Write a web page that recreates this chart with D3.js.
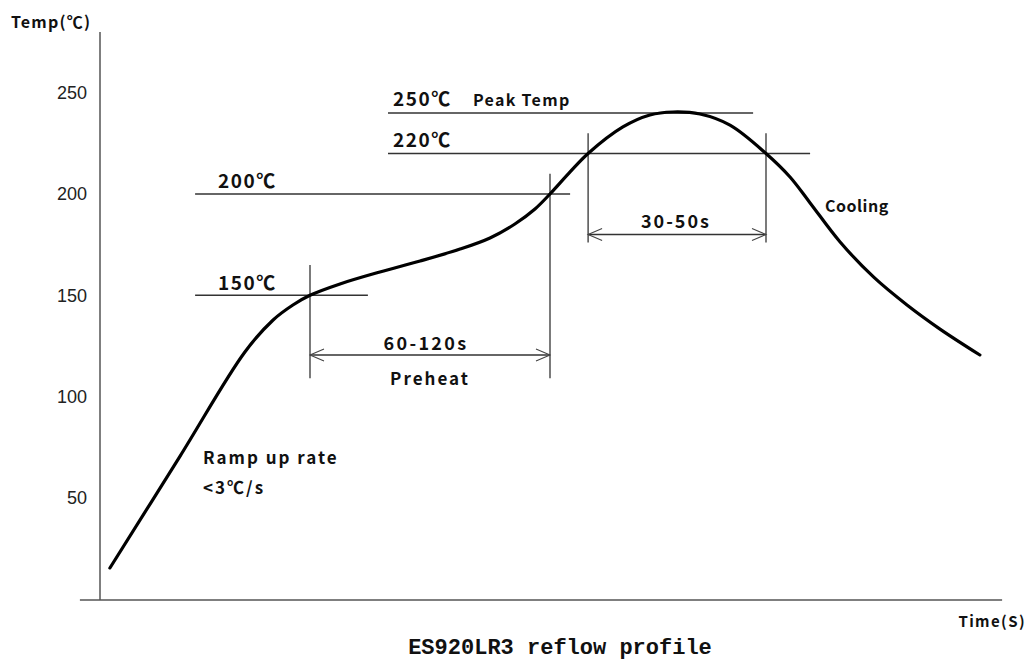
<!DOCTYPE html>
<html>
<head>
<meta charset="utf-8">
<script src="https://cdn.jsdelivr.net/npm/d3@7"></script>
<style>
  body { margin: 0; background: #fff; }
  .lbl { font-family: "Noto Sans CJK JP", "Noto Sans", sans-serif; font-weight: 700; fill: #111; }
  .tick text { font-family: "Liberation Sans", Arial, sans-serif; font-size: 18px; fill: #222; }
</style>
</head>
<body>
<div id="wrapper"></div>
<script>
// profile curve (time in s, temperature in degC)
const curveTime = [3.3, 26.7, 48.3, 57.7, 64.3, 70, 80, 93.3, 106.7, 120, 130, 138.3, 145, 150, 156.7, 162.7, 174.3, 183.3, 191, 200, 210, 222, 230, 236.7, 246.7, 258, 269, 280, 293.3];
const curveTemp = [15.3, 70.6, 122, 137.8, 145.2, 150, 155.6, 161.5, 166.9, 172.8, 178.3, 185.2, 192.6, 200, 210.9, 220, 233.1, 239, 240.5, 239.5, 234, 220, 208.4, 195.6, 176.3, 158.8, 145.2, 133.3, 120.5];

const yTicks = [50, 100, 150, 200, 250];

// annotation marks
const preheatTimes = [70, 150];   // 150C and 200C crossings
const reflowTimes = [162.7, 222]; // 220C crossings
const peakTemp = 240;             // where the peak line sits on the axis

function draw() {
  const width = 1033, height = 662;

  const svg = d3.select("#wrapper").append("svg")
      .attr("width", width)
      .attr("height", height);

  const x = d3.scaleLinear().domain([0, 300]).range([100, 1000]);
  const y = d3.scaleLinear().domain([0, 280]).range([599, 32]);

  // axes
  svg.append("line")
      .attr("x1", x(0)).attr("x2", x(0))
      .attr("y1", y(280)).attr("y2", y(0) + 1)
      .attr("stroke", "#555").attr("stroke-width", 1.5);
  svg.append("line")
      .attr("x1", x(-6.7)).attr("x2", x(300.7))
      .attr("y1", y(0) + 1).attr("y2", y(0) + 1)
      .attr("stroke", "#555").attr("stroke-width", 1.5);

  const yAxis = svg.append("g")
      .attr("transform", `translate(${x(0)},0)`)
      .call(d3.axisLeft(y).tickValues(yTicks).tickSize(0).tickPadding(13));
  yAxis.select(".domain").remove();

  svg.append("text").attr("class", "lbl")
      .attr("x", 11).attr("y", 28)
      .style("font-size", "16px")
      .style("letter-spacing", "1.2px")
      .text("Temp(℃)");
  svg.append("text").attr("class", "lbl")
      .attr("x", 1026).attr("y", 627)
      .attr("text-anchor", "end")
      .style("font-size", "15px")
      .style("letter-spacing", "1.4px")
      .text("Time(S)");

  // guide lines
  const guide = (t1, t2, v) => svg.append("line")
      .attr("x1", x(t1)).attr("x2", x(t2))
      .attr("y1", y(v)).attr("y2", y(v))
      .attr("stroke", "#333").attr("stroke-width", 1.3);
  const vguide = (t, v1, v2) => svg.append("line")
      .attr("x1", x(t)).attr("x2", x(t))
      .attr("y1", y(v1)).attr("y2", y(v2))
      .attr("stroke", "#333").attr("stroke-width", 1.3);

  guide(31.7, 89.3, 150);
  guide(31.7, 156.7, 200);
  guide(96, 236.7, 220);
  guide(96, 217.7, peakTemp);

  vguide(preheatTimes[0], 165, 109);
  vguide(preheatTimes[1], 210, 109);
  vguide(reflowTimes[0], 230, 176);
  vguide(reflowTimes[1], 230, 176);

  // dimension arrows
  const arrow = (t1, t2, v) => {
    const yy = y(v), a = x(t1), b = x(t2);
    guide(t1, t2, v);
    svg.append("path")
        .attr("d", `M${a + 14},${yy - 6}L${a},${yy}L${a + 14},${yy + 6}M${b - 14},${yy - 6}L${b},${yy}L${b - 14},${yy + 6}`)
        .attr("fill", "none").attr("stroke", "#444").attr("stroke-width", 1.1);
  };
  arrow(preheatTimes[0], preheatTimes[1], 120.5);
  arrow(reflowTimes[0], reflowTimes[1], 180);

  // the profile
  const line = d3.line()
      .x((d, i) => x(curveTime[i]))
      .y(d => y(d))
      .curve(d3.curveCatmullRom.alpha(0.5));

  svg.append("path")
      .attr("d", line(curveTemp))
      .attr("fill", "none")
      .attr("stroke", "#000")
      .attr("stroke-width", 3.2)
      .attr("stroke-linecap", "round");

  // labels
  const label = (tx, ty, s, size, spacing, anchor) => svg.append("text")
      .attr("class", "lbl")
      .attr("x", tx).attr("y", ty)
      .attr("text-anchor", anchor || "start")
      .style("font-size", size + "px")
      .style("letter-spacing", spacing + "px")
      .text(s);

  label(393, 106, "250℃", 19, 1.5);
  label(473, 106, "Peak Temp", 16, 1.3);
  label(393, 147, "220℃", 19, 1.5);
  label(218, 188, "200℃", 19, 1.5);
  label(218, 290, "150℃", 19, 1.5);
  label(426, 350, "60-120s", 18, 2.3, "middle");
  label(430, 385, "Preheat", 17, 2, "middle");
  label(676, 228, "30-50s", 18, 2, "middle");
  label(825, 212, "Cooling", 16, 0.5);
  label(203, 464, "Ramp up rate", 17, 2);
  label(203, 494, "<3℃/s", 17, 2);

  svg.append("text")
      .attr("x", 560).attr("y", 654)
      .attr("text-anchor", "middle")
      .style("font-family", "'Liberation Mono', 'DejaVu Sans Mono', monospace")
      .style("font-weight", 700)
      .style("font-size", "22px")
      .attr("fill", "#111")
      .text("ES920LR3 reflow profile");
}
draw();
</script>
</body>
</html>
